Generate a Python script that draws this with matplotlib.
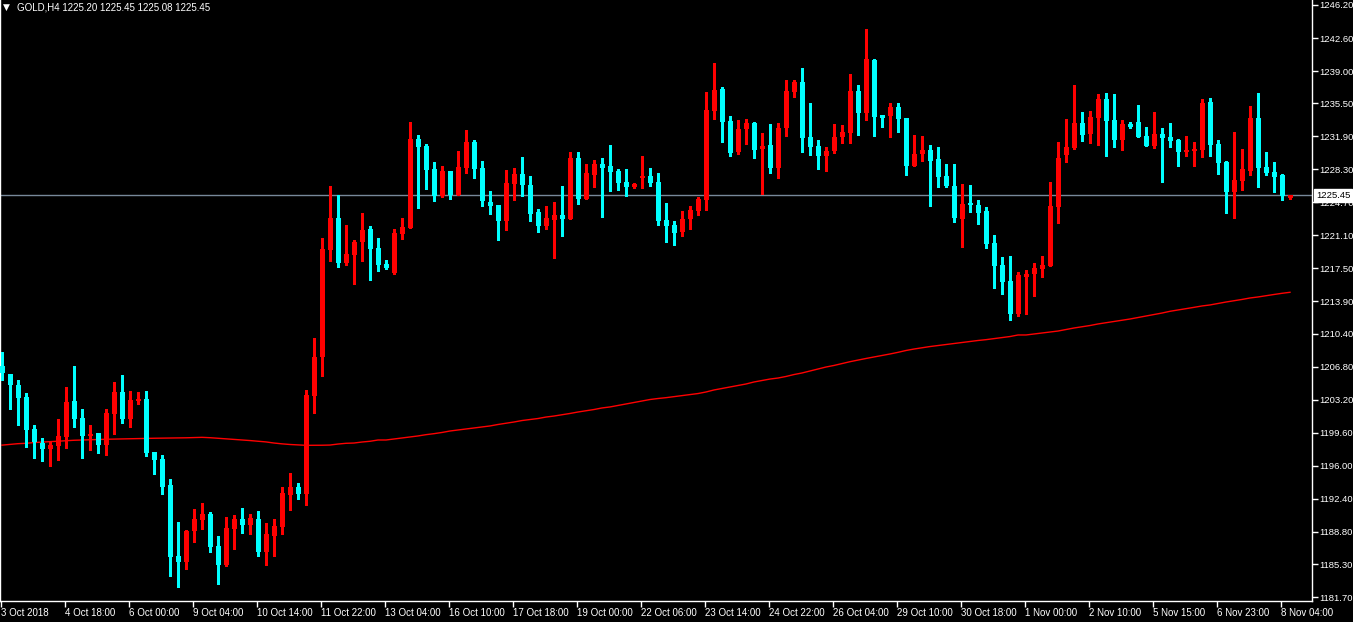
import matplotlib
matplotlib.use("Agg")
import matplotlib.pyplot as plt
import matplotlib.transforms as mtransforms
import numpy as np

# GOLD H4 candles (index 0 = 3 Oct 2018)
opens = [1206.87, 1205.99, 1204.79, 1203.50, 1200.01, 1198.52, 1197.83, 1198.19, 1199.14, 1203.06,
         1201.21, 1199.25, 1199.58, 1198.27, 1201.68, 1204.07, 1201.10, 1203.11, 1203.28, 1197.50,
         1196.74, 1193.90, 1186.17, 1185.55, 1188.92, 1190.12, 1190.74, 1187.25, 1185.21, 1189.14,
         1190.20, 1189.58, 1190.20, 1186.63, 1188.39, 1189.36, 1192.85, 1193.69, 1192.96, 1203.64,
         1207.85, 1219.50, 1222.99, 1218.09, 1218.96, 1220.38, 1221.79, 1219.72, 1217.98, 1217.00,
         1221.25, 1221.90, 1231.60, 1230.84, 1228.33, 1225.39, 1228.11, 1225.50, 1228.44, 1231.27,
         1228.44, 1224.74, 1224.41, 1222.67, 1226.69, 1227.78, 1226.58, 1223.65, 1222.12, 1222.77,
         1223.32, 1222.88, 1229.53, 1225.06, 1227.67, 1228.87, 1228.66, 1228.11, 1226.91, 1226.37,
         1227.35, 1227.57, 1226.91, 1222.77, 1222.23, 1221.46, 1222.88, 1223.76, 1224.95, 1234.65,
         1237.05, 1233.56, 1230.18, 1232.69, 1233.34, 1230.51, 1230.95, 1228.44, 1232.80, 1236.72,
         1237.81, 1231.82, 1230.84, 1229.75, 1230.29, 1231.82, 1232.25, 1236.83, 1234.43, 1240.20,
         1234.21, 1234.10, 1235.08, 1233.88, 1228.66, 1229.96, 1230.40, 1229.42, 1227.57, 1226.47,
         1222.88, 1224.63, 1224.41, 1223.76, 1220.27, 1217.87, 1216.13, 1212.57, 1216.56, 1216.93,
         1217.44, 1217.80, 1224.19, 1229.86, 1230.62, 1233.34, 1232.14, 1233.88, 1235.96, 1233.67,
         1231.49, 1233.23, 1233.45, 1231.93, 1230.84, 1232.14, 1231.82, 1231.49, 1230.18, 1230.29,
         1230.40, 1235.63, 1231.05, 1229.09, 1225.82, 1227.02, 1228.11, 1233.88, 1228.55, 1228.00,
         1227.67, 1225.20]
highs = [1208.44, 1206.05, 1205.34, 1203.89, 1200.45, 1199.03, 1198.63, 1201.10, 1204.58, 1206.87,
         1202.19, 1200.45, 1199.58, 1202.19, 1205.16, 1205.89, 1204.15, 1204.04, 1204.15, 1197.50,
         1197.18, 1194.56, 1189.87, 1189.00, 1191.29, 1191.94, 1190.96, 1188.35, 1190.42, 1190.63,
         1191.40, 1190.74, 1191.07, 1189.80, 1190.20, 1193.69, 1195.22, 1194.12, 1204.26, 1209.92,
         1220.84, 1226.47, 1225.47, 1222.23, 1220.59, 1223.54, 1222.12, 1220.81, 1218.42, 1221.79,
         1222.99, 1233.45, 1232.04, 1231.05, 1229.09, 1228.66, 1228.11, 1230.29, 1232.58, 1231.49,
         1229.20, 1225.93, 1224.41, 1228.22, 1228.44, 1229.64, 1227.57, 1223.97, 1224.30, 1224.74,
         1226.47, 1230.18, 1230.18, 1228.87, 1229.31, 1229.53, 1230.95, 1228.33, 1228.33, 1226.80,
         1229.75, 1228.44, 1227.89, 1224.63, 1222.67, 1223.76, 1224.30, 1225.28, 1236.72, 1239.88,
         1237.26, 1234.10, 1233.67, 1233.78, 1233.45, 1232.25, 1233.23, 1233.34, 1238.03, 1238.03,
         1239.33, 1235.52, 1231.49, 1230.73, 1233.23, 1233.12, 1238.68, 1237.48, 1243.58, 1240.31,
         1234.21, 1235.52, 1235.52, 1233.88, 1232.04, 1231.93, 1230.95, 1230.73, 1228.87, 1228.87,
         1226.69, 1226.58, 1224.95, 1224.19, 1221.14, 1218.75, 1218.85, 1217.11, 1217.33, 1218.09,
         1218.85, 1226.91, 1231.27, 1233.78, 1237.48, 1234.54, 1234.65, 1236.50, 1236.61, 1236.50,
         1233.67, 1233.45, 1235.30, 1232.91, 1234.54, 1232.80, 1233.34, 1231.60, 1231.93, 1231.27,
         1235.96, 1236.07, 1231.49, 1229.20, 1232.36, 1230.51, 1235.19, 1236.61, 1230.18, 1229.09,
         1227.78, 1225.45]
lows = [1205.34, 1202.19, 1200.45, 1198.08, 1196.88, 1196.56, 1196.01, 1196.63, 1197.97, 1200.26,
        1196.88, 1197.72, 1197.43, 1197.18, 1199.47, 1200.66, 1200.26, 1202.77, 1197.10, 1195.14,
        1192.96, 1184.02, 1182.83, 1184.79, 1187.73, 1189.14, 1186.63, 1183.16, 1185.10, 1186.96,
        1188.70, 1188.59, 1186.20, 1185.21, 1186.20, 1188.59, 1191.22, 1192.41, 1191.76, 1201.79,
        1205.81, 1218.31, 1217.69, 1217.91, 1215.84, 1218.31, 1216.24, 1217.22, 1217.44, 1216.89,
        1220.70, 1221.90, 1224.08, 1226.15, 1224.84, 1225.28, 1225.06, 1225.50, 1227.89, 1227.35,
        1224.30, 1223.43, 1220.59, 1221.68, 1224.95, 1225.39, 1222.67, 1221.46, 1221.79, 1218.64,
        1221.03, 1222.88, 1224.52, 1225.06, 1226.37, 1223.10, 1225.93, 1226.04, 1225.39, 1226.26,
        1226.26, 1226.47, 1222.23, 1220.38, 1220.05, 1221.03, 1221.79, 1223.32, 1223.86, 1233.78,
        1231.27, 1229.75, 1229.96, 1231.05, 1229.53, 1225.61, 1227.89, 1227.35, 1231.93, 1236.17,
        1230.18, 1229.86, 1228.33, 1228.11, 1230.07, 1231.16, 1231.16, 1232.04, 1233.67, 1231.93,
        1232.91, 1231.82, 1232.36, 1227.67, 1228.66, 1229.20, 1224.30, 1226.37, 1226.37, 1222.56,
        1219.83, 1223.65, 1222.34, 1219.72, 1215.40, 1214.74, 1211.92, 1212.35, 1212.57, 1214.53,
        1216.60, 1217.80, 1222.48, 1229.13, 1230.51, 1231.38, 1231.16, 1230.95, 1229.75, 1230.73,
        1230.40, 1232.80, 1231.82, 1230.84, 1230.62, 1226.91, 1230.73, 1228.66, 1229.75, 1228.66,
        1229.64, 1229.75, 1227.78, 1223.54, 1222.99, 1226.04, 1227.67, 1226.37, 1227.67, 1225.82,
        1224.95, 1225.08]
closes = [1206.10, 1204.79, 1203.42, 1199.90, 1198.56, 1197.83, 1198.27, 1199.25, 1202.95, 1201.13,
          1199.28, 1199.47, 1198.27, 1201.75, 1204.07, 1201.13, 1203.17, 1203.17, 1197.40, 1196.66,
          1193.72, 1186.06, 1185.55, 1188.89, 1190.20, 1190.74, 1187.14, 1185.21, 1189.22, 1190.20,
          1189.58, 1190.31, 1186.63, 1188.57, 1189.44, 1193.03, 1193.69, 1192.96, 1203.72, 1207.85,
          1219.61, 1222.99, 1218.09, 1219.07, 1220.38, 1221.68, 1219.61, 1217.87, 1217.55, 1221.35,
          1222.01, 1231.60, 1230.73, 1228.22, 1225.39, 1228.11, 1225.50, 1228.55, 1231.27, 1228.33,
          1224.84, 1224.30, 1222.67, 1226.80, 1227.78, 1226.58, 1223.43, 1222.12, 1222.99, 1223.32,
          1222.88, 1229.53, 1225.06, 1227.89, 1228.87, 1228.44, 1228.00, 1226.80, 1226.37, 1226.69,
          1227.57, 1226.80, 1222.67, 1222.12, 1221.35, 1222.88, 1223.86, 1225.06, 1234.76, 1236.94,
          1233.45, 1230.07, 1232.69, 1233.34, 1230.40, 1230.84, 1228.44, 1232.80, 1236.83, 1237.81,
          1231.71, 1230.73, 1229.75, 1230.29, 1231.82, 1232.36, 1236.83, 1234.43, 1240.31, 1233.99,
          1233.88, 1235.08, 1233.78, 1228.66, 1229.96, 1230.40, 1229.20, 1227.46, 1226.47, 1222.99,
          1224.52, 1224.41, 1223.54, 1220.16, 1217.80, 1216.05, 1212.57, 1216.78, 1216.89, 1217.55,
          1217.87, 1224.30, 1229.53, 1230.73, 1233.34, 1232.04, 1233.99, 1235.96, 1233.56, 1231.49,
          1233.23, 1232.91, 1231.82, 1230.84, 1232.14, 1231.71, 1231.38, 1230.18, 1230.40, 1230.51,
          1235.52, 1230.95, 1228.98, 1225.82, 1227.13, 1228.33, 1233.88, 1228.44, 1227.89, 1227.46,
          1225.39, 1225.45]

# moving average drawn on the chart (red line)
ma_values = [1198.25, 1198.33, 1198.41, 1198.45, 1198.53, 1198.58, 1198.63, 1198.68, 1198.72, 1198.78,
             1198.81, 1198.84, 1198.87, 1198.89, 1198.91, 1198.93, 1198.96, 1198.98, 1199.00, 1199.00,
             1199.01, 1199.02, 1199.03, 1199.05, 1199.08, 1199.10, 1199.06, 1199.00, 1198.95, 1198.88,
             1198.82, 1198.75, 1198.68, 1198.60, 1198.48, 1198.39, 1198.32, 1198.27, 1198.23, 1198.23,
             1198.24, 1198.26, 1198.37, 1198.45, 1198.48, 1198.59, 1198.67, 1198.81, 1198.81, 1198.92,
             1199.03, 1199.14, 1199.25, 1199.39, 1199.50, 1199.63, 1199.79, 1199.90, 1200.01, 1200.12,
             1200.23, 1200.34, 1200.50, 1200.63, 1200.77, 1200.93, 1201.04, 1201.15, 1201.31, 1201.42,
             1201.56, 1201.70, 1201.86, 1202.00, 1202.13, 1202.30, 1202.41, 1202.57, 1202.73, 1202.90,
             1203.06, 1203.22, 1203.33, 1203.42, 1203.53, 1203.64, 1203.74, 1203.87, 1204.04, 1204.26,
             1204.42, 1204.58, 1204.75, 1204.91, 1205.13, 1205.29, 1205.45, 1205.56, 1205.73, 1205.94,
             1206.11, 1206.33, 1206.54, 1206.76, 1206.93, 1207.14, 1207.34, 1207.52, 1207.69, 1207.85,
             1208.01, 1208.18, 1208.36, 1208.56, 1208.72, 1208.86, 1208.99, 1209.10, 1209.21, 1209.32,
             1209.43, 1209.54, 1209.65, 1209.74, 1209.85, 1209.95, 1210.08, 1210.25, 1210.25, 1210.36,
             1210.47, 1210.57, 1210.68, 1210.85, 1211.01, 1211.15, 1211.28, 1211.45, 1211.59, 1211.72,
             1211.85, 1211.99, 1212.15, 1212.32, 1212.48, 1212.64, 1212.83, 1212.97, 1213.11, 1213.26,
             1213.41, 1213.52, 1213.68, 1213.84, 1213.98, 1214.12, 1214.28, 1214.39, 1214.53, 1214.66,
             1214.79, 1214.90]

price_ticks = [1246.20, 1242.60, 1239.00, 1235.50, 1231.90, 1228.30, 1224.70, 1221.10, 1217.50, 1213.90,
               1210.40, 1206.80, 1203.20, 1199.60, 1196.00, 1192.40, 1188.80, 1185.30, 1181.70]
time_labels = ["3 Oct 2018", "4 Oct 18:00", "6 Oct 00:00", "9 Oct 04:00", "10 Oct 14:00",
               "11 Oct 22:00", "13 Oct 04:00", "16 Oct 10:00", "17 Oct 18:00", "19 Oct 00:00",
               "22 Oct 06:00", "23 Oct 14:00", "24 Oct 22:00", "26 Oct 04:00", "29 Oct 10:00",
               "30 Oct 18:00", "1 Nov 00:00", "2 Nov 10:00", "5 Nov 15:00", "6 Nov 23:00",
               "8 Nov 04:00"]
label_step = 8
bid_price = 1225.45
title = "GOLD,H4 1225.20 1225.45 1225.08 1225.45"

plt.rcParams['font.family'] = ['Liberation Sans', 'DejaVu Sans']

W, H = 1353, 622
fig = plt.figure(figsize=(W / 100, H / 100), dpi=100, facecolor='black')
ax = fig.add_axes([0, 21 / H, 1312 / W, 601 / H], facecolor='black')

o = np.array(opens)
h = np.array(highs)
l = np.array(lows)
c = np.array(closes)
idx = np.arange(len(o))
up = c >= o
colors = np.where(up, '#ff0000', '#00ffff')

# wicks
ax.vlines(idx, l, h, colors=colors, linewidth=1, antialiased=False, zorder=3)
# bodies
body_bottom = np.minimum(o, c)
body_height = np.maximum(np.abs(c - o), 0.12)
ax.bar(idx, body_height, bottom=body_bottom, width=0.625, color=colors,
       linewidth=0, antialiased=False, zorder=4)

# moving average
ax.plot(idx, ma_values, color='#ff0000', linewidth=1, zorder=2)

# bid line
ax.axhline(bid_price, color='#778899', linewidth=1, zorder=1)

ax.set_xlim(-0.25, -0.25 + 1312 / 8)
ax.set_ylim(1246.74 - 601 / 9.18, 1246.74)

for s in ax.spines.values():
    s.set_color('white')
    s.set_linewidth(1)
ax.spines['top'].set_visible(False)

ax.yaxis.tick_right()
ax.set_yticks(price_ticks)
ax.set_yticklabels([f"{p:.2f}" for p in price_ticks])
ax.tick_params(axis='y', colors='white', length=4, width=1, pad=1, labelsize=6.8)

xt = np.arange(0, len(o), label_step)[:len(time_labels)] - 0.125
ax.set_xticks(xt)
ax.set_xticklabels(time_labels)
ax.tick_params(axis='x', colors='white', length=4, width=1, pad=1, labelsize=7)
for lab in ax.get_xticklabels():
    lab.set_ha('left')

# current price box on the price scale
trans = mtransforms.blended_transform_factory(ax.transAxes, ax.transData)
ax.text(1316 / 1312, bid_price, f"{bid_price:.2f}", transform=trans, ha='left', va='center',
        fontsize=6.8, color='black', clip_on=False, zorder=10,
        bbox=dict(boxstyle='square,pad=0.2', facecolor='white', edgecolor='white'))

# header
fig.text(3 / W, 1 - 7 / H, "▼", color='white', fontsize=6.5, va='center', ha='left',
         family='DejaVu Sans')
fig.text(17 / W, 1 - 7 / H, title, color='white', fontsize=7, va='center', ha='left')

fig.savefig("out.png", dpi=100, facecolor='black')
